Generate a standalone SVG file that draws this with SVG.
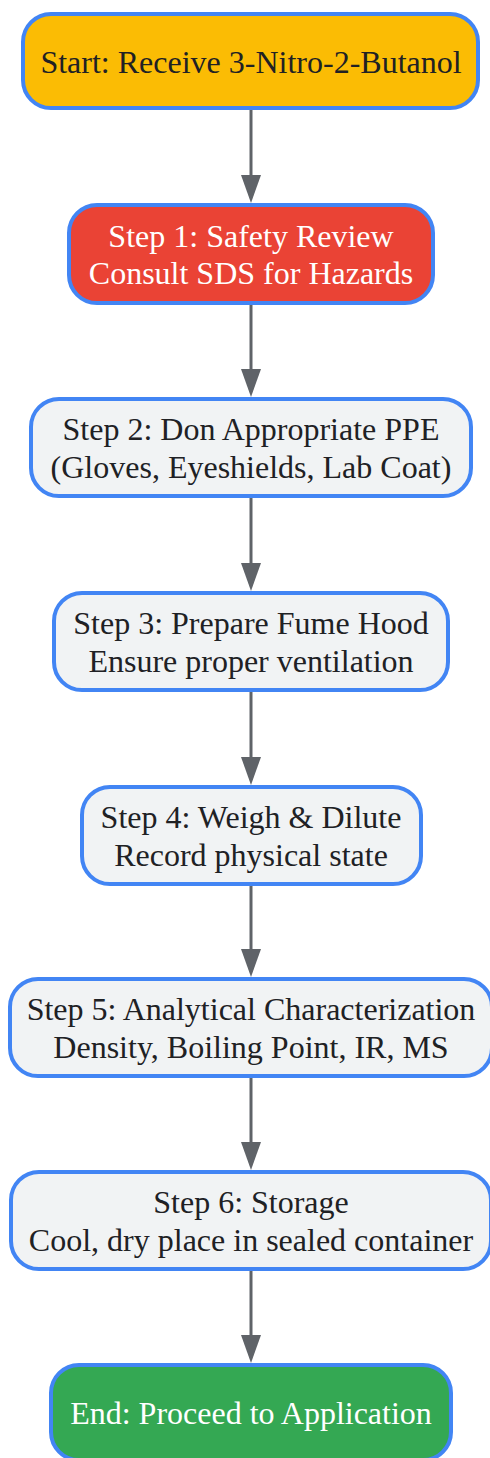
<svg xmlns="http://www.w3.org/2000/svg" width="490" height="1458" viewBox="0 0 490 1458">
<defs>
<style>
.n{stroke:#4285F4;stroke-width:4}
.t{font-family:"Liberation Serif","Times New Roman",serif;font-size:32px;text-anchor:middle;fill:#202124}
.w{fill:#FFFFFF}
.e{stroke:#5F6368;stroke-width:3;fill:none}
</style>
<marker id="ah" viewBox="0 0 28 20" markerUnits="userSpaceOnUse" markerWidth="28" markerHeight="20" refX="0" refY="10" orient="auto">
<path d="M0,0 L28,10 L0,20 z" fill="#5F6368"/>
</marker>
</defs>
<g id="edges">
<line class="e" x1="251" y1="110" x2="251" y2="175" marker-end="url(#ah)"/>
<line class="e" x1="251" y1="305" x2="251" y2="369" marker-end="url(#ah)"/>
<line class="e" x1="251" y1="498" x2="251" y2="563" marker-end="url(#ah)"/>
<line class="e" x1="251" y1="692" x2="251" y2="757" marker-end="url(#ah)"/>
<line class="e" x1="251" y1="886" x2="251" y2="949" marker-end="url(#ah)"/>
<line class="e" x1="251" y1="1078" x2="251" y2="1142" marker-end="url(#ah)"/>
<line class="e" x1="251" y1="1271" x2="251" y2="1335" marker-end="url(#ah)"/>
</g>
<g id="start">
<rect class="n" x="23" y="14" width="455" height="94" rx="28" fill="#FBBC04"/>
<text class="t" x="251" y="72.5">Start: Receive 3-Nitro-2-Butanol</text>
</g>
<g id="step1">
<rect class="n" x="69" y="205" width="364" height="98" rx="28" fill="#EA4335"/>
<text class="t w" x="251" y="246.5">Step 1: Safety Review</text>
<text class="t w" x="251" y="284">Consult SDS for Hazards</text>
</g>
<g id="step2">
<rect class="n" x="31" y="399" width="440" height="97" rx="28" fill="#F1F3F4"/>
<text class="t" x="251" y="440">Step 2: Don Appropriate PPE</text>
<text class="t" x="251" y="477.5">(Gloves, Eyeshields, Lab Coat)</text>
</g>
<g id="step3">
<rect class="n" x="54" y="593" width="394" height="97" rx="28" fill="#F1F3F4"/>
<text class="t" x="251" y="634">Step 3: Prepare Fume Hood</text>
<text class="t" x="251" y="671.5">Ensure proper ventilation</text>
</g>
<g id="step4">
<rect class="n" x="82" y="787" width="339" height="97" rx="28" fill="#F1F3F4"/>
<text class="t" x="251" y="828">Step 4: Weigh &amp; Dilute</text>
<text class="t" x="251" y="865.5">Record physical state</text>
</g>
<g id="step5">
<rect class="n" x="10" y="979" width="482" height="97" rx="28" fill="#F1F3F4"/>
<text class="t" x="251" y="1020">Step 5: Analytical Characterization</text>
<text class="t" x="251" y="1057.5">Density, Boiling Point, IR, MS</text>
</g>
<g id="step6">
<rect class="n" x="11" y="1172" width="480" height="97" rx="28" fill="#F1F3F4"/>
<text class="t" x="251" y="1213">Step 6: Storage</text>
<text class="t" x="251" y="1250.5">Cool, dry place in sealed container</text>
</g>
<g id="end">
<rect class="n" x="51" y="1365" width="400" height="95" rx="28" fill="#34A853"/>
<text class="t w" x="251" y="1424">End: Proceed to Application</text>
</g>
</svg>
